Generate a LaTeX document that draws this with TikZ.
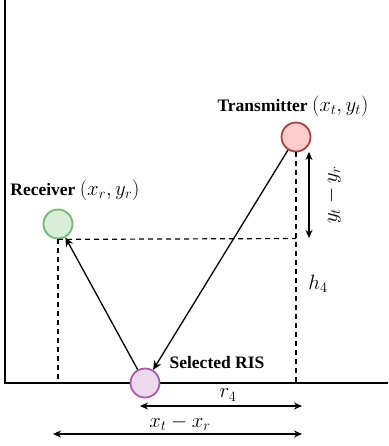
\documentclass[tikz,border=0pt]{standalone}
\usepackage{amsmath}
\usepackage{fontspec}
\setmainfont{Liberation Serif}
\usetikzlibrary{arrows.meta}
\newcommand{\mth}[1]{{\fontsize{20}{24}\selectfont$#1$}}

\begin{document}
\begin{tikzpicture}[x=1pt,y=-1pt,font=\fontsize{17.5}{21}\selectfont,
  dev/.style={circle,minimum size=29pt,inner sep=0pt,line width=1.8pt},
  txd/.style={dev,draw=red!55!black!75,fill=red!20},
  rxd/.style={dev,draw=green!50!black!55,fill=green!60!black!16},
  risd/.style={dev,draw=violet!65!white,fill=violet!15},
  ar/.style={-{Stealth[length=9pt,width=8pt]},line width=1.3pt},
  dimar/.style={{Stealth[length=8pt,width=7pt]}-{Stealth[length=8pt,width=7pt]},line width=1.1pt},
  dsh/.style={dashed,line width=1.2pt,dash pattern=on 5pt off 4pt},
  wall/.style={line width=2.6pt}]
\useasboundingbox (0,0) rectangle (388,446);
% walls
\coordinate (wt) at (5,0);
\coordinate (wc) at (5,383);
\coordinate (we) at (388,383);
\draw[wall] (wt) -- (wc) -- (we);
% devices
\node[txd] (tx) at (296,137) {};
\node[rxd] (rx) at (58,224) {};
\node[risd] (ris) at (145,383) {};
\node (txl) at (293,106) {\textbf{Transmitter} \mth{(x_t,y_t)}};
\node (rxl) at (75,190) {\textbf{Receiver} \mth{(x_r,y_r)}};
\node (risl) at (217,363) {\textbf{Selected RIS}};
% projections
\coordinate (rf) at (58,383);
\coordinate (tc) at (296,238.5);
\coordinate (tf) at (296,383);
\draw[dsh] (rx.south) -- (tc);
\draw[dsh] (rx.south) -- (rf);
\draw[dsh] (tx.south) -- (tf);
% paths
\draw[ar] (tx) -- (ris);
\draw[ar] (ris) -- (rx);
% dimensions
\coordinate (dy1) at (309,152);
\coordinate (dy2) at (309,238);
\draw[dimar] (dy1) -- (dy2) node[midway,right=12pt,rotate=90,anchor=north] {\mth{y_t-y_r}};
\node (h4) at (318,284) {\mth{h_4}};
\coordinate (r1) at (140,406);
\coordinate (r2) at (302,406);
\draw[dimar] (r1) -- (r2);
\node (r4) at (228,395) {\mth{r_4}};
\coordinate (x1) at (53,434);
\coordinate (x2) at (302,434);
\draw[dimar] (x1) -- (x2);
\node (xtr) at (180,423) {\mth{x_t-x_r}};
\end{tikzpicture}
\end{document}
